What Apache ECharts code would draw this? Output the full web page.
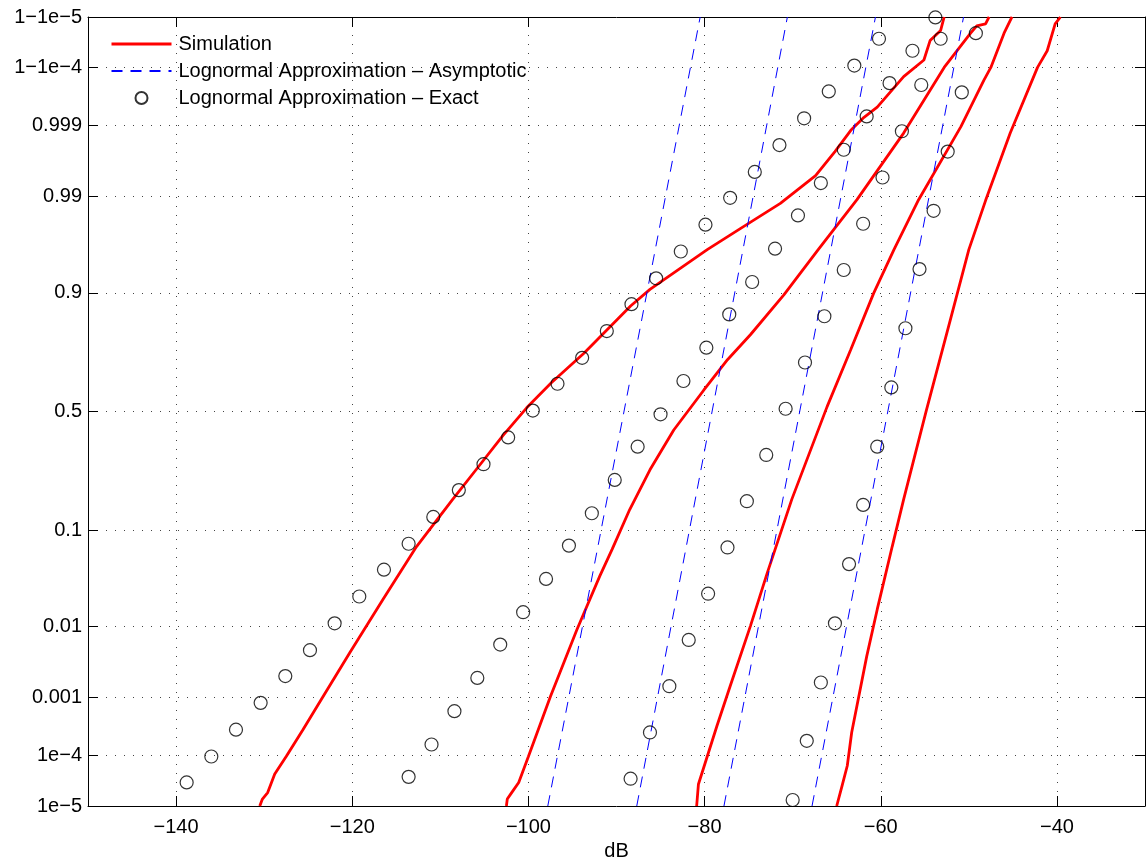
<!DOCTYPE html>
<html>
<head>
<meta charset="utf-8">
<script src="https://cdn.jsdelivr.net/npm/echarts@6/dist/echarts.min.js"></script>
<style>
  html, body { margin: 0; padding: 0; background: #fff; }
  #chart { width: 1147px; height: 865px; }
</style>
</head>
<body>
<div id="chart"></div>
<script>
// Received level (dB) against its CDF, drawn on a normal-probability scale.
const dbTicks = [-140, -120, -100, -80, -60, -40];
const probTicks = [1e-5, 1e-4, 0.001, 0.01, 0.1, 0.5, 0.9, 0.99, 0.999, 1 - 1e-4, 1 - 1e-5];
const probTickLabels = ['1e\u22125', '1e\u22124', '0.001', '0.01', '0.1', '0.5', '0.9', '0.99', '0.999', '1\u22121e\u22124', '1\u22121e\u22125'];

// Simulated CDFs as [dB, standard normal quantile of the CDF]
const simCurve1 = [[-130.5,-4.265],[-130.2,-4.19],[-129.6,-4.12],[-128.8,-3.92],[-127.5,-3.73],[-125.6,-3.44],[-123.5,-3.11],[-120.3,-2.61],[-116.5,-2.03],[-112.7,-1.46],[-108.6,-0.95],[-105.7,-0.60],[-102.9,-0.26],[-100.2,0.04],[-97.4,0.31],[-93.7,0.63],[-88.4,1.14],[-86.2,1.32],[-79.7,1.75],[-75.9,1.98],[-71.4,2.25],[-67.4,2.55],[-65.2,2.81],[-63.4,3.04],[-61.9,3.18],[-60.4,3.29],[-57.4,3.62],[-55.1,3.80],[-54.4,4.01],[-53.2,4.12],[-52.8,4.265]];
const simCurve2 = [[-102.5,-4.265],[-102.4,-4.19],[-101.9,-4.12],[-101.1,-4.01],[-100.0,-3.73],[-97.5,-3.08],[-94.5,-2.36],[-91.9,-1.78],[-90.5,-1.49],[-88.5,-1.06],[-86.2,-0.63],[-83.5,-0.20],[-80.1,0.23],[-77.4,0.56],[-74.8,0.83],[-71.0,1.26],[-67.1,1.75],[-62.7,2.29],[-57.4,3.01],[-52.8,3.72],[-49.8,4.09],[-49.1,4.17],[-48.1,4.19],[-47.7,4.265]];
const simCurve3 = [[-80.9,-4.265],[-80.7,-4.03],[-79.7,-3.73],[-78.6,-3.40],[-77.1,-2.97],[-74.8,-2.32],[-72.9,-1.75],[-70.1,-0.95],[-66.1,0.05],[-63.4,0.67],[-60.8,1.28],[-58.5,1.75],[-55.7,2.29],[-50.9,3.08],[-48.3,3.58],[-47.5,3.72],[-46.0,4.09],[-45.1,4.265]];
const simCurve4 = [[-65.0,-4.265],[-64.4,-4.05],[-63.8,-3.83],[-63.3,-3.47],[-61.6,-2.65],[-60.4,-2.14],[-58.7,-1.46],[-57.4,-0.95],[-54.8,0.02],[-52.1,0.99],[-50.0,1.75],[-48.1,2.28],[-45.3,3.01],[-42.2,3.72],[-41.1,3.90],[-40.2,4.19],[-39.6,4.265]];

// Asymptotic lognormal approximations: dB where each line meets the CDF 1e-5 and 1-1e-5
const asymDbAtLow = [-97.8, -87.7, -77.8, -67.8];
const asymDbAtHigh = [-80.5, -70.6, -60.6, -50.6];

// Exact lognormal approximation, [dB, standard normal quantile]
const exact1 = [[-138.8,-4.01],[-136.0,-3.73],[-133.2,-3.44],[-130.4,-3.15],[-127.6,-2.86],[-124.8,-2.58],[-122.0,-2.29],[-119.2,-2.00],[-116.4,-1.71],[-113.6,-1.43],[-110.8,-1.14],[-107.9,-0.85],[-105.1,-0.57],[-102.3,-0.28],[-99.5,0.01],[-96.7,0.30],[-93.9,0.58],[-91.1,0.87],[-88.3,1.16],[-85.5,1.44],[-82.7,1.73],[-79.9,2.02],[-77.1,2.31],[-74.3,2.59],[-71.5,2.88],[-68.7,3.17],[-65.9,3.46],[-63.0,3.74],[-60.2,4.03]];
const exact2 = [[-113.6,-3.95],[-111.0,-3.60],[-108.4,-3.24],[-105.8,-2.88],[-103.2,-2.52],[-100.6,-2.17],[-98.0,-1.81],[-95.4,-1.45],[-92.8,-1.10],[-90.2,-0.74],[-87.6,-0.38],[-85.0,-0.03],[-82.4,0.33],[-79.8,0.69],[-77.2,1.05],[-74.6,1.40],[-72.0,1.76],[-69.4,2.12],[-66.8,2.47],[-64.2,2.83],[-61.6,3.19],[-59.0,3.55],[-56.4,3.90],[-53.8,4.26]];
const exact3 = [[-88.4,-3.97],[-86.2,-3.47],[-84.0,-2.97],[-81.8,-2.47],[-79.6,-1.97],[-77.4,-1.47],[-75.2,-0.97],[-73.0,-0.47],[-70.8,0.03],[-68.6,0.53],[-66.4,1.03],[-64.2,1.53],[-62.0,2.03],[-59.8,2.53],[-57.6,3.03],[-55.4,3.53],[-53.2,4.03]];
const exact4 = [[-70.0,-4.20],[-68.4,-3.56],[-66.8,-2.93],[-65.2,-2.29],[-63.6,-1.65],[-62.0,-1.01],[-60.4,-0.38],[-58.8,0.26],[-57.2,0.90],[-55.6,1.54],[-54.0,2.17],[-52.4,2.81],[-50.8,3.45],[-49.2,4.09]];

// Inverse standard normal CDF (Acklam's rational approximation)
function probit(p) {
  const a = [-3.969683028665376e+01, 2.209460984245205e+02, -2.759285104469687e+02, 1.383577518672690e+02, -3.066479806614716e+01, 2.506628277459239e+00];
  const b = [-5.447609879822406e+01, 1.615858368580409e+02, -1.556989798598866e+02, 6.680131188771972e+01, -1.328068155288572e+01];
  const c = [-7.784894002430293e-03, -3.223964580411365e-01, -2.400758277161838e+00, -2.549732539343734e+00, 4.374664141464968e+00, 2.938163982698783e+00];
  const d = [7.784695709041462e-03, 3.224671290700398e-01, 2.445134137142996e+00, 3.754408661907416e+00];
  const pl = 0.02425;
  let q, r;
  if (p < pl) {
    q = Math.sqrt(-2 * Math.log(p));
    return (((((c[0]*q+c[1])*q+c[2])*q+c[3])*q+c[4])*q+c[5]) / ((((d[0]*q+d[1])*q+d[2])*q+d[3])*q+1);
  }
  if (p <= 1 - pl) {
    q = p - 0.5; r = q * q;
    return (((((a[0]*r+a[1])*r+a[2])*r+a[3])*r+a[4])*r+a[5])*q / (((((b[0]*r+b[1])*r+b[2])*r+b[3])*r+b[4])*r+1);
  }
  q = Math.sqrt(-2 * Math.log(1 - p));
  return -(((((c[0]*q+c[1])*q+c[2])*q+c[3])*q+c[4])*q+c[5]) / ((((d[0]*q+d[1])*q+d[2])*q+d[3])*q+1);
}

const zTicks = probTicks.map(probit);
const zMin = zTicks[0];
const zMax = zTicks[zTicks.length - 1];
const FONT = '"Liberation Sans", Arial, Helvetica, sans-serif';

function probLabel(v) {
  let best = 0;
  for (let i = 1; i < zTicks.length; i++) {
    if (Math.abs(zTicks[i] - v) < Math.abs(zTicks[best] - v)) best = i;
  }
  return probTickLabels[best];
}

const gridDots = { show: true, lineStyle: { color: '#444', width: 1, type: [1, 8] } };

const series = [];
const SIM = 'Simulation';
const ASYM = 'Lognormal Approximation \u2013 Asymptotic';
const EXACT = 'Lognormal Approximation \u2013 Exact';

[simCurve1, simCurve2, simCurve3, simCurve4].forEach(c => {
  series.push({
    name: SIM, type: 'line', data: c, symbol: 'none', z: 3,
    lineStyle: { color: '#ff0000', width: 2.8 }, itemStyle: { color: '#ff0000' }
  });
});
asymDbAtLow.forEach((lo, i) => {
  series.push({
    name: ASYM, type: 'line', data: [[lo, zMin], [asymDbAtHigh[i], zMax]], symbol: 'none', z: 4,
    lineStyle: { color: '#0000ff', width: 1, type: [11, 8] }, itemStyle: { color: '#0000ff' }
  });
});
[exact1, exact2, exact3, exact4].forEach(c => {
  series.push({
    name: EXACT, type: 'scatter', data: c, symbol: 'circle', symbolSize: 13, z: 5,
    itemStyle: { color: 'rgba(0,0,0,0)', borderColor: '#000', borderWidth: 1.2 }
  });
});

const chart = echarts.init(document.getElementById('chart'), null, { renderer: 'canvas' });
chart.setOption({
  animation: false,
  backgroundColor: '#fff',
  grid: { left: 88, top: 17, right: 2, bottom: 59, containLabel: false, outerBoundsMode: 'none' },
  legend: {
    data: [
      { name: SIM, itemStyle: { opacity: 0 }, lineStyle: { width: 3 } },
      { name: ASYM, itemStyle: { opacity: 0 } },
      { name: EXACT }
    ],
    orient: 'vertical', left: 110, top: 34, padding: 0,
    itemWidth: 60, itemHeight: 12, itemGap: 7,
    textStyle: { fontSize: 20, fontFamily: FONT, color: '#000', lineHeight: 20, padding: [0, 0, 0, 2] },
    backgroundColor: 'transparent', borderWidth: 0
  },
  xAxis: [{
    type: 'value', min: -150, max: -30, position: 'bottom',
    name: 'dB', nameLocation: 'middle', nameGap: 35,
    nameTextStyle: { fontSize: 20, fontFamily: FONT, color: '#000' },
    axisLine: { show: true, onZero: false, lineStyle: { color: '#000', width: 1 } },
    axisTick: { show: true, inside: true, length: 10, customValues: dbTicks, lineStyle: { color: '#000' } },
    axisLabel: { show: true, customValues: dbTicks, margin: 11, fontSize: 20, fontFamily: FONT, color: '#000',
      formatter: v => String(v).replace('-', '\u2212') },
    splitLine: gridDots
  }, {
    type: 'value', min: -150, max: -30, position: 'top',
    axisLine: { show: true, onZero: false, lineStyle: { color: '#000', width: 1 } },
    axisTick: { show: true, inside: true, length: 10, customValues: dbTicks, lineStyle: { color: '#000' } },
    axisLabel: { show: false },
    splitLine: { show: false }
  }],
  yAxis: [{
    type: 'value', min: zMin, max: zMax, position: 'left',
    axisLine: { show: true, onZero: false, lineStyle: { color: '#000', width: 1 } },
    axisTick: { show: true, inside: true, length: 10, customValues: zTicks, lineStyle: { color: '#000' } },
    axisLabel: { show: true, customValues: zTicks, margin: 6, fontSize: 20, fontFamily: FONT, color: '#000',
      formatter: probLabel },
    splitLine: gridDots
  }, {
    type: 'value', min: zMin, max: zMax, position: 'right',
    axisLine: { show: true, onZero: false, lineStyle: { color: '#000', width: 1 } },
    axisTick: { show: true, inside: true, length: 10, customValues: zTicks, lineStyle: { color: '#000' } },
    axisLabel: { show: false },
    splitLine: { show: false }
  }],
  series: series
});
</script>
</body>
</html>
